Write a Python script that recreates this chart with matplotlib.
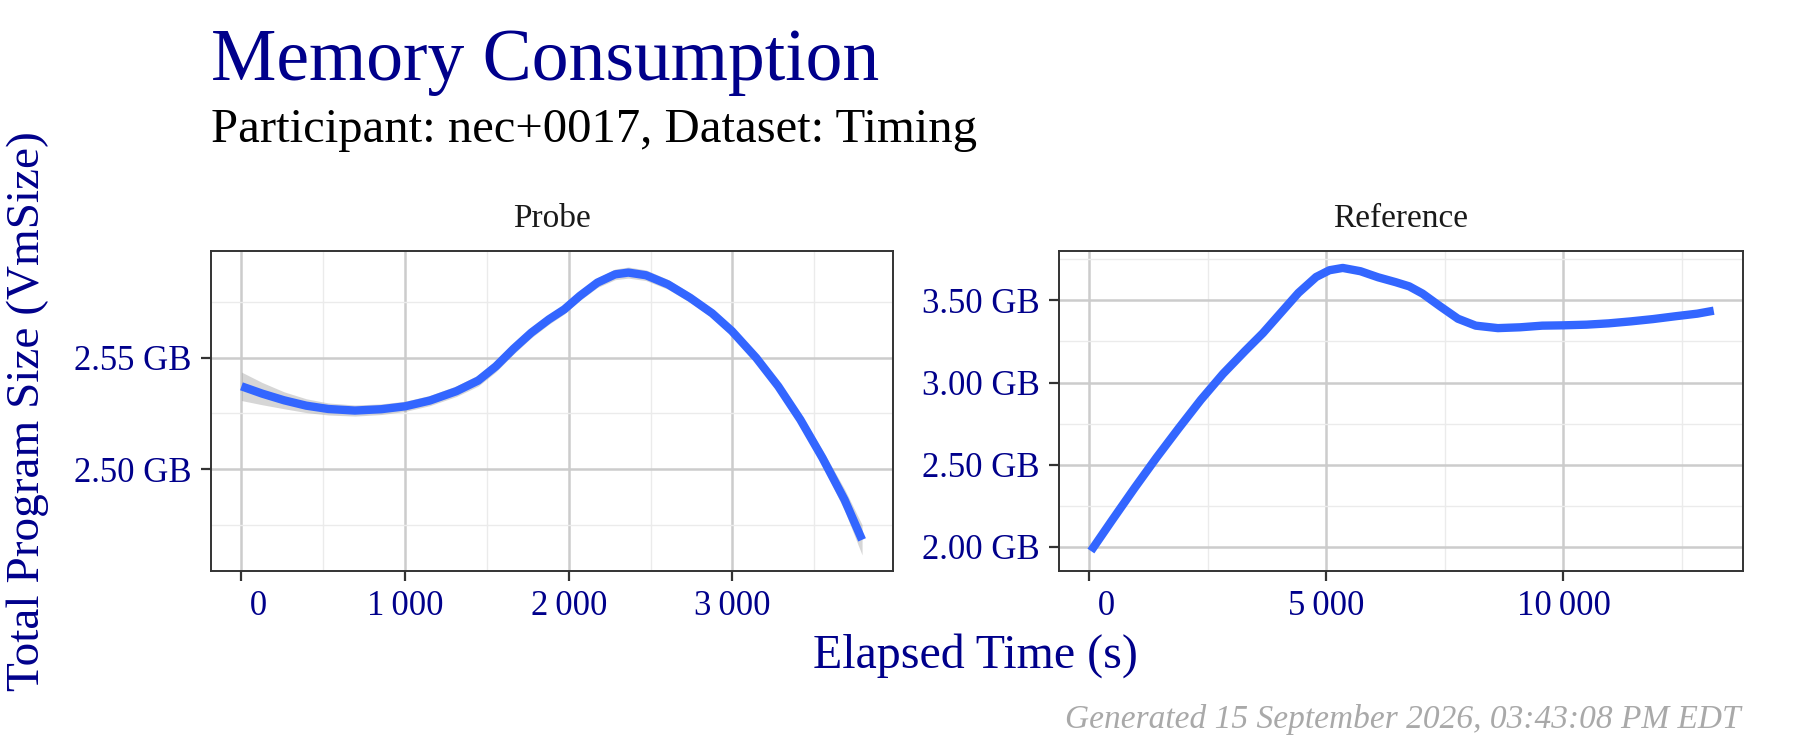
import matplotlib
matplotlib.use("Agg")
import matplotlib.pyplot as plt
import numpy as np

# ---------------- data ----------------
probe_x = [0, 127, 261, 396, 531, 693, 854, 1000, 1151, 1313, 1447, 1555, 1663,
           1771, 1879, 1973, 2067, 2175, 2283, 2364, 2472, 2606, 2741, 2876,
           2997, 3145, 3280, 3415, 3550, 3685, 3792]
probe_y = [2.5372, 2.5339, 2.5309, 2.5285, 2.5270, 2.5263, 2.5269, 2.5282, 2.5308,
           2.5350, 2.5398, 2.5462, 2.5541, 2.5613, 2.5673, 2.5718, 2.5778, 2.5838,
           2.5875, 2.5883, 2.5871, 2.5830, 2.5770, 2.5700, 2.5620, 2.5500, 2.5372,
           2.5222, 2.5050, 2.4862, 2.4682]
probe_se = [0.0064, 0.0050, 0.0038, 0.0031, 0.0027, 0.0025, 0.0024, 0.0023, 0.0023,
            0.0024, 0.0025, 0.0025, 0.0024, 0.0023, 0.0022, 0.0021, 0.0021, 0.0022,
            0.0024, 0.0025, 0.0024, 0.0022, 0.0021, 0.0020, 0.0020, 0.0021, 0.0023,
            0.0027, 0.0035, 0.0048, 0.0068]

ref_x = [37, 486, 953, 1421, 1888, 2355, 2822, 3290, 3664, 4037, 4411, 4785, 5065,
         5346, 5720, 6093, 6467, 6748, 7028, 7402, 7776, 8150, 8617, 9084, 9551,
         10000, 10486, 10953, 11421, 11888, 12355, 12822, 13168]
ref_y = [1.9755, 2.164, 2.357, 2.544, 2.722, 2.895, 3.053, 3.193, 3.301, 3.423,
         3.545, 3.642, 3.683, 3.697, 3.677, 3.640, 3.610, 3.585, 3.541, 3.463,
         3.388, 3.346, 3.331, 3.336, 3.346, 3.348, 3.352, 3.360, 3.372, 3.386,
         3.403, 3.419, 3.437]

panels = ["Probe", "Reference"]

probe_xticks = [0, 1000, 2000, 3000]
probe_xticklabels = ["\u2007\u20070", "1\u2009000", "2\u2009000", "3\u2009000"]
probe_xminor = [500, 1500, 2500, 3500]
probe_yticks = [2.50, 2.55]
probe_yticklabels = ["2.50 GB", "2.55 GB"]
probe_yminor = [2.475, 2.525, 2.575]

ref_xticks = [0, 5000, 10000]
ref_xticklabels = ["\u2007\u20070", "5\u2009000", "10\u2009000"]
ref_xminor = [2500, 7500, 12500]
ref_yticks = [2.00, 2.50, 3.00, 3.50]
ref_yticklabels = ["2.00 GB", "2.50 GB", "3.00 GB", "3.50 GB"]
ref_yminor = [2.25, 2.75, 3.25, 3.75]

title = "Memory Consumption"
subtitle = "Participant: nec+0017, Dataset: Timing"
xlabel = "Elapsed Time (s)"
ylabel = "Total Program Size (VmSize)"
caption = "Generated 15 September 2026, 03:43:08 PM EDT"

# ---------------- style ----------------
SERIF = ["Liberation Serif", "DejaVu Serif"]
plt.rcParams["font.family"] = SERIF
NAVY = "#00008B"
LINE = "#3366FF"

W, H = 1800, 750
fig = plt.figure(figsize=(W / 100, H / 100), dpi=100)


def px_rect(x0, y0, x1, y1):
    return [x0 / W, 1 - y1 / H, (x1 - x0) / W, (y1 - y0) / H]


ax1 = fig.add_axes(px_rect(211, 251, 893, 571))
ax2 = fig.add_axes(px_rect(1059, 251, 1743, 571))


def style_axes(ax, xt, xtl, xm, yt, ytl, ym, xlim, ylim, name):
    ax.set_xlim(*xlim)
    ax.set_ylim(*ylim)
    ax.set_xticks(xt)
    ax.set_xticklabels(xtl)
    ax.set_xticks(xm, minor=True)
    ax.set_yticks(yt)
    ax.set_yticklabels(ytl)
    ax.set_yticks(ym, minor=True)
    ax.grid(which="major", color="#CCCCCC", lw=1.8, zorder=0)
    ax.grid(which="minor", color="#EBEBEB", lw=1.0, zorder=0)
    ax.set_axisbelow(True)
    ax.tick_params(which="major", length=7, width=1.6, color="#333333",
                   labelcolor=NAVY, labelsize=25, pad=7)
    ax.tick_params(which="minor", length=0)
    for s in ax.spines.values():
        s.set_color("#333333")
        s.set_linewidth(1.4)
    ax.set_title(name, fontsize=24, color="#1A1A1A", pad=17)


ax1.fill_between(probe_x, np.array(probe_y) - np.array(probe_se),
                 np.array(probe_y) + np.array(probe_se),
                 color="#999999", alpha=0.4, lw=0, zorder=2)
ax1.plot(probe_x, probe_y, color=LINE, lw=6.0, solid_capstyle="butt",
         solid_joinstyle="round", zorder=3)
style_axes(ax1, probe_xticks, probe_xticklabels, probe_xminor,
           probe_yticks, probe_yticklabels, probe_yminor,
           (-186, 3981), (2.4542, 2.598), panels[0])

ax2.plot(ref_x, ref_y, color=LINE, lw=6.0, solid_capstyle="butt",
         solid_joinstyle="round", zorder=3)
style_axes(ax2, ref_xticks, ref_xticklabels, ref_xminor,
           ref_yticks, ref_yticklabels, ref_yminor,
           (-636, 13785), (1.854, 3.800), panels[1])

# ---------------- texts ----------------
fig.text(211 / W, 1 - 80 / H, title, fontsize=53, color=NAVY,
         ha="left", va="baseline")
fig.text(211 / W, 1 - 142 / H, subtitle, fontsize=35, color="black",
         ha="left", va="baseline")
fig.text(975 / W, 1 - 668 / H, xlabel, fontsize=34.5, color=NAVY,
         ha="center", va="baseline")
fig.text(28 / W, 1 - 411 / H, ylabel, fontsize=34, color=NAVY,
         ha="center", va="center", rotation=90)
fig.text(1741 / W, 1 - 728 / H, caption, fontsize=24, color="#A9A9A9",
         ha="right", va="baseline", style="italic")

fig.savefig("out.png", dpi=100, facecolor="white")
